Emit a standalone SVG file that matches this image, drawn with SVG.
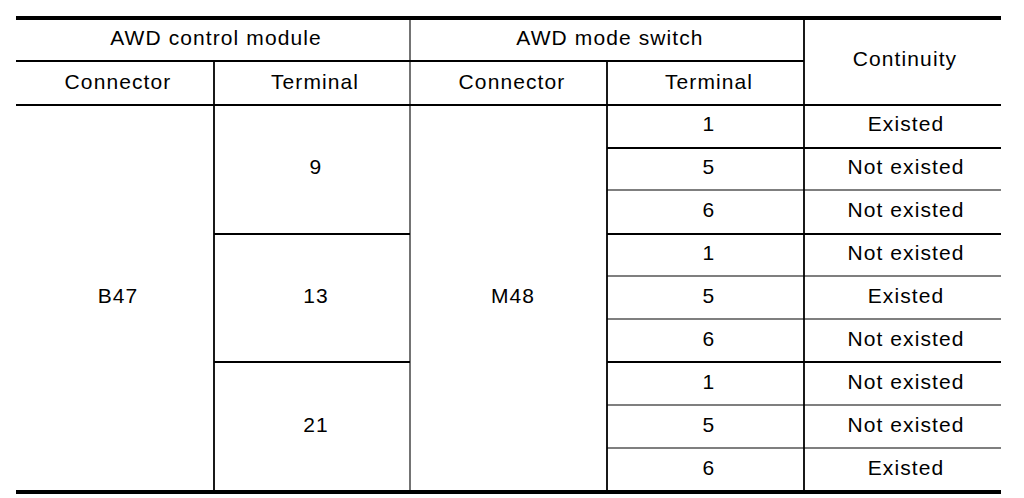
<svg xmlns="http://www.w3.org/2000/svg" width="1024" height="498" viewBox="0 0 1024 498">
<style>
.t{font-family:"Liberation Sans",Arial,sans-serif;font-size:21px;letter-spacing:1.1px;fill:#000;text-anchor:middle}
.thick{stroke:#000;stroke-width:4;fill:none}
.ln{stroke:#000;stroke-width:1.8;fill:none}
.thin{stroke:#000;stroke-width:1.1;fill:none}
</style>
<rect width="1024" height="498" fill="#fff"/>
<g id="grid">
<line class="thick" x1="16" y1="18" x2="1001" y2="18"/>
<line class="thick" x1="16" y1="492" x2="1001" y2="492"/>
<line class="ln" x1="16" y1="61" x2="804" y2="61"/>
<line class="ln" x1="16" y1="105" x2="1001" y2="105"/>
<line class="ln" x1="214" y1="61" x2="214" y2="490"/>
<line class="thin" x1="410" y1="20" x2="410" y2="490"/>
<line class="ln" x1="607" y1="61" x2="607" y2="490"/>
<line class="ln" x1="804" y1="20" x2="804" y2="490"/>
<line class="ln" x1="607" y1="148" x2="1001" y2="148"/>
<line class="thin" x1="607" y1="190" x2="1001" y2="190"/>
<line class="ln" x1="214" y1="234" x2="410" y2="234"/>
<line class="ln" x1="607" y1="234" x2="1001" y2="234"/>
<line class="thin" x1="607" y1="276" x2="1001" y2="276"/>
<line class="thin" x1="607" y1="319" x2="1001" y2="319"/>
<line class="ln" x1="214" y1="362" x2="410" y2="362"/>
<line class="ln" x1="607" y1="362" x2="1001" y2="362"/>
<line class="thin" x1="607" y1="405" x2="1001" y2="405"/>
<line class="thin" x1="607" y1="448" x2="1001" y2="448"/>
</g>
<g id="header">
<text class="t" x="216" y="45">AWD control module</text>
<text class="t" x="610" y="45">AWD mode switch</text>
<text class="t" x="905" y="66">Continuity</text>
<text class="t" x="118" y="89">Connector</text>
<text class="t" x="315" y="89">Terminal</text>
<text class="t" x="512" y="89">Connector</text>
<text class="t" x="709" y="89">Terminal</text>
</g>
<g id="body">
<text class="t" x="118" y="303">B47</text>
<text class="t" x="316" y="174">9</text>
<text class="t" x="316" y="303">13</text>
<text class="t" x="316" y="432">21</text>
<text class="t" x="513" y="303">M48</text>
<text class="t" x="709" y="131">1</text>
<text class="t" x="709" y="174">5</text>
<text class="t" x="709" y="217">6</text>
<text class="t" x="709" y="260">1</text>
<text class="t" x="709" y="303">5</text>
<text class="t" x="709" y="346">6</text>
<text class="t" x="709" y="389">1</text>
<text class="t" x="709" y="432">5</text>
<text class="t" x="709" y="475">6</text>
<text class="t" x="906" y="131">Existed</text>
<text class="t" x="906" y="174">Not existed</text>
<text class="t" x="906" y="217">Not existed</text>
<text class="t" x="906" y="260">Not existed</text>
<text class="t" x="906" y="303">Existed</text>
<text class="t" x="906" y="346">Not existed</text>
<text class="t" x="906" y="389">Not existed</text>
<text class="t" x="906" y="432">Not existed</text>
<text class="t" x="906" y="475">Existed</text>
</g>
</svg>
